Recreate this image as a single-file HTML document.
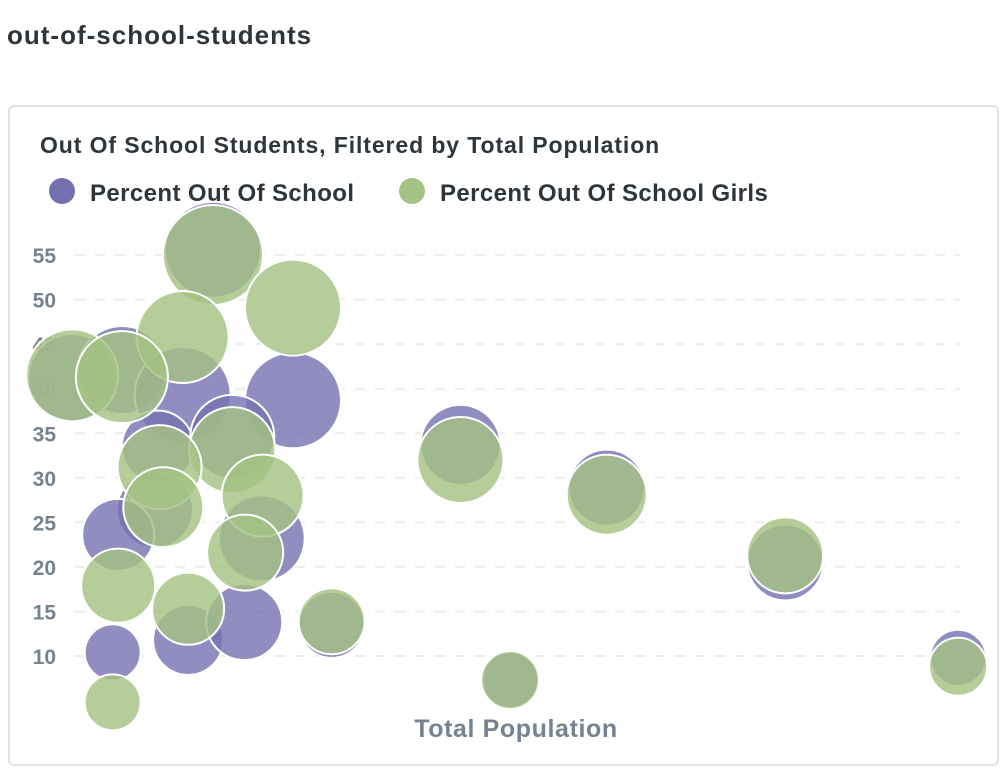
<!DOCTYPE html>
<html><head><meta charset="utf-8"><style>
body{margin:0;background:#fff;width:1008px;height:776px;overflow:hidden;font-family:"Liberation Sans",sans-serif}
#pt{position:absolute;left:7px;top:20px;font-size:26px;font-weight:bold;color:#2e353b;letter-spacing:1px}
#card{position:absolute;left:8px;top:105px;width:991px;height:661px;border:2px solid #dfe3e6;border-radius:6px;box-sizing:border-box}
svg{position:absolute;left:0;top:0}
</style></head><body>
<div id="pt">out-of-school-students</div>
<div id="card"></div>
<svg id="c" width="1008" height="776"></svg>
<script>
const yTicks=[10,15,20,25,30,35,40,45,50,55];
const popA=[18.8,3.5,8.9,15.5,27.5,12.8,20.9,45.7,12.5,8.5,24.1,61.6,81,31.7,16.1,22.2,7.9,51.1,99.8];
const pctA=[55.6,41.2,42.1,39.3,38.7,33.5,34.6,33.7,26.4,23.6,23.2,28.9,20.5,13.5,11.8,13.8,10.4,7.3,9.8];
const sizeA=[48,44,44,48,48,36,42,40,38,36,43,38,38,33,35,38,28,28,28];
const popB=[18.8,27.5,15.5,3.5,8.9,20.9,13,13.4,24.2,22.3,8.5,16.1,45.7,61.6,81,31.7,51.1,99.8,7.9];
const pctB=[55,49.1,45.8,41.5,41.3,33.1,31.2,26.7,28,21.6,17.9,15.3,32,28.1,21.3,13.9,7.3,8.8,4.8];
const sizeB=[50,48,46,46,46,43,42,40,41,38,37,36,43,40,38,33,29,29,28];
const NS="http://www.w3.org/2000/svg",s=document.getElementById('c');
const x=v=>40+v*9.2, y=v=>656-(v-10)*8.91;
function mk(t,a,txt){const e=document.createElementNS(NS,t);for(const k in a)e.setAttribute(k,a[k]);if(txt!=null)e.textContent=txt;s.appendChild(e);return e;}
let e=mk('text',{x:40,y:153,'font-size':23,'font-weight':'bold',fill:'#2e353b','letter-spacing':0.9},'Out Of School Students, Filtered by Total Population');


e=mk('circle',{cx:62,cy:191,r:13,fill:'#7570b0'});


e=mk('text',{x:90,y:201,'font-size':24,'font-weight':'bold',fill:'#2e353b','letter-spacing':0.4},'Percent Out Of School');


e=mk('circle',{cx:412,cy:191,r:13,fill:'#a3c283'});


e=mk('text',{x:440,y:201,'font-size':24,'font-weight':'bold',fill:'#2e353b','letter-spacing':0.4},'Percent Out Of School Girls');


yTicks.forEach(t=>{
 e=mk('line',{x1:75,x2:960,y1:y(t),y2:y(t),stroke:'#ececec','stroke-width':2,'stroke-dasharray':'10 10'});
 
 
 e=mk('text',{x:56,y:y(t)+8,'text-anchor':'end','font-size':21,'font-weight':'bold',fill:'#74838f'},t);
 
 
});
popA.forEach((p,i)=>{
 e=mk('circle',{cx:x(p),cy:y(pctA[i]),r:sizeA[i],fill:'#7570b0','fill-opacity':0.8,stroke:'#fff','stroke-width':2});
 
 
});
popB.forEach((p,i)=>{
 e=mk('circle',{cx:x(p),cy:y(pctB[i]),r:sizeB[i],fill:'#a3c283','fill-opacity':0.82,stroke:'#fff','stroke-width':2});
 
 
});
e=mk('text',{x:516,y:737,'text-anchor':'middle','font-size':25,'font-weight':'bold',fill:'#74838f','letter-spacing':0.6},'Total Population');


</script>
</body></html>
